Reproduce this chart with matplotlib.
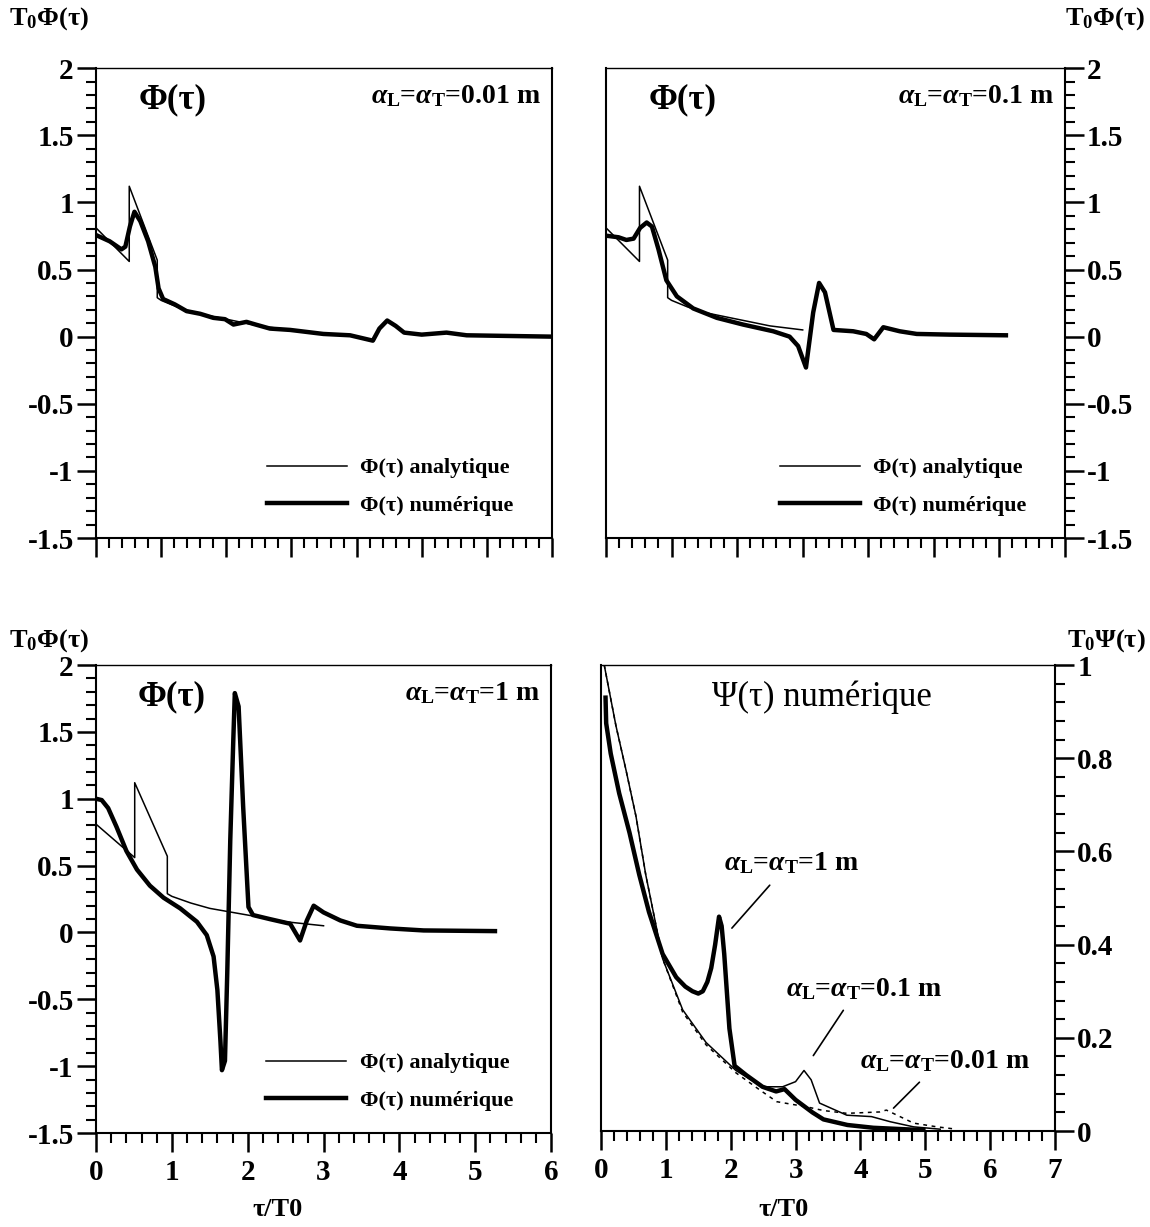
import numpy as np
import matplotlib.pyplot as plt
from matplotlib.ticker import MultipleLocator

plt.rcParams['font.family'] = ['Liberation Serif', 'DejaVu Serif']
plt.rcParams['font.weight'] = 'bold'
plt.rcParams['mathtext.fontset'] = 'custom'
plt.rcParams['mathtext.rm'] = 'Liberation Serif:bold'
plt.rcParams['mathtext.it'] = 'Liberation Serif:italic:bold'
plt.rcParams['mathtext.bf'] = 'Liberation Serif:bold'

# analytic solution (same in the three Phi panels)
ana_x = [0, 0.51, 0.51, 0.94, 0.94, 1.0, 1.25, 1.5, 2.0, 2.5, 3.0]
ana_y = [0.81, 0.56, 1.12, 0.57, 0.29, 0.27, 0.22, 0.18, 0.13, 0.08, 0.05]

# numeric, alpha = 0.01 m
n001_x = [0.03, 0.21, 0.39, 0.45, 0.52, 0.59, 0.68, 0.80, 0.91, 0.96, 1.03, 1.21, 1.39, 1.60,
          1.80, 1.98, 2.11, 2.31, 2.45, 2.67, 2.98, 3.49, 3.90, 4.25, 4.35, 4.47, 4.60, 4.73,
          5.0, 5.38, 5.69, 7.0]
n001_y = [0.75, 0.71, 0.65, 0.67, 0.82, 0.93, 0.86, 0.71, 0.52, 0.36, 0.28, 0.24, 0.19, 0.17,
          0.14, 0.13, 0.09, 0.11, 0.09, 0.06, 0.05, 0.02, 0.01, -0.03, 0.06, 0.12, 0.08, 0.03,
          0.015, 0.03, 0.01, 0.0]

# numeric, alpha = 0.1 m
n01_x = [0.03, 0.19, 0.31, 0.42, 0.52, 0.62, 0.70, 0.80, 0.92, 1.08, 1.33, 1.69, 2.09, 2.55,
         2.80, 2.93, 3.05, 3.16, 3.25, 3.34, 3.47, 3.77, 3.97, 4.09, 4.23, 4.48, 4.74, 5.24, 6.10]
n01_y = [0.75, 0.74, 0.72, 0.73, 0.81, 0.85, 0.82, 0.65, 0.42, 0.30, 0.21, 0.14, 0.09, 0.04,
         0.0, -0.07, -0.23, 0.18, 0.40, 0.33, 0.05, 0.04, 0.02, -0.02, 0.07, 0.04, 0.02, 0.015, 0.01]

# numeric, alpha = 1 m
n1_x = [0.0, 0.075, 0.16, 0.27, 0.40, 0.54, 0.71, 0.89, 1.11, 1.33, 1.46, 1.55, 1.60, 1.64,
        1.66, 1.70, 1.73, 1.77, 1.81, 1.83, 1.88, 1.94, 2.01, 2.07, 2.29, 2.56, 2.69, 2.78,
        2.87, 3.0, 3.22, 3.44, 3.88, 4.32, 5.26]
n1_y = [1.0, 0.99, 0.93, 0.79, 0.61, 0.47, 0.35, 0.26, 0.18, 0.08, -0.02, -0.18, -0.43, -0.81,
        -1.03, -0.96, -0.31, 0.69, 1.44, 1.79, 1.69, 0.94, 0.19, 0.13, 0.10, 0.065, -0.06, 0.09,
        0.20, 0.15, 0.09, 0.05, 0.03, 0.015, 0.01]

# Psi(tau) numerique for the three dispersivities
psi1_x = [0.07, 0.08, 0.15, 0.28, 0.44, 0.59, 0.74, 0.95, 1.16, 1.30, 1.41, 1.50, 1.57, 1.64,
          1.70, 1.76, 1.82, 1.86, 1.90, 1.98, 2.06, 2.24, 2.49, 2.70, 2.83, 3.0, 3.26, 3.43,
          3.8, 4.2, 4.97]
psi1_y = [0.93, 0.875, 0.81, 0.725, 0.64, 0.55, 0.47, 0.38, 0.33, 0.31, 0.30, 0.295, 0.30, 0.32,
          0.35, 0.40, 0.46, 0.44, 0.38, 0.22, 0.14, 0.12, 0.095, 0.085, 0.09, 0.067, 0.04, 0.025,
          0.013, 0.007, 0.002]
psi01_x = [0.05, 0.23, 0.385, 0.54, 0.69, 0.85, 0.95, 1.26, 1.62, 2.08, 2.49, 2.80, 3.0, 3.13,
           3.24, 3.37, 3.79, 4.17, 4.46, 4.82, 5.23]
psi01_y = [1.0, 0.87, 0.775, 0.675, 0.55, 0.44, 0.37, 0.26, 0.19, 0.13, 0.095, 0.095, 0.106, 0.13,
           0.11, 0.06, 0.034, 0.031, 0.02, 0.009, 0.004]
psi001_x = [0.05, 0.23, 0.385, 0.54, 0.69, 0.85, 0.95, 1.26, 1.62, 2.08, 2.45, 2.71, 3.17, 3.43,
            3.79, 4.3, 4.40, 4.61, 4.82, 5.18, 5.48]
psi001_y = [1.0, 0.87, 0.775, 0.675, 0.55, 0.44, 0.37, 0.255, 0.185, 0.125, 0.088, 0.063, 0.052,
            0.044, 0.038, 0.041, 0.045, 0.031, 0.017, 0.009, 0.004]

phi_panels = [
    ("$\\alpha_\\mathrm{L}$=$\\alpha_\\mathrm{T}$=0.01 m", n001_x, n001_y),
    ("$\\alpha_\\mathrm{L}$=$\\alpha_\\mathrm{T}$=0.1 m", n01_x, n01_y),
    ("$\\alpha_\\mathrm{L}$=$\\alpha_\\mathrm{T}$=1 m", n1_x, n1_y),
]
psi_labels = ["$\\alpha_\\mathrm{L}$=$\\alpha_\\mathrm{T}$=1 m",
              "$\\alpha_\\mathrm{L}$=$\\alpha_\\mathrm{T}$=0.1 m",
              "$\\alpha_\\mathrm{L}$=$\\alpha_\\mathrm{T}$=0.01 m"]
psi_text_pos = [(2.94, 0.575), (4.05, 0.305), (5.3, 0.15)]
psi_leader_from = [(2.63, 0.532), (3.76, 0.264), (4.94, 0.109)]
psi_leader_to = [(1.99, 0.431), (3.25, 0.157), (4.48, 0.045)]

fig = plt.figure(figsize=(11.5, 12.27), dpi=100)
ax_tl = fig.add_axes([0.0835, 0.5615, 0.3965, 0.383])
ax_tr = fig.add_axes([0.527, 0.5615, 0.399, 0.383])
ax_bl = fig.add_axes([0.0835, 0.0766, 0.3957, 0.3814])
ax_br = fig.add_axes([0.5226, 0.0782, 0.3948, 0.3798])


def style(ax, side, xmax, ymin, ymax, ymaj, ymin_step, xlabels):
    ax.set_xlim(0, xmax)
    ax.set_ylim(ymin, ymax)
    ax.xaxis.set_major_locator(MultipleLocator(1))
    ax.xaxis.set_minor_locator(MultipleLocator(0.2))
    ax.yaxis.set_major_locator(MultipleLocator(ymaj))
    ax.yaxis.set_minor_locator(MultipleLocator(ymin_step))
    ax.tick_params(which='major', direction='out', length=14, width=1.8, labelsize=21, pad=2)
    ax.tick_params(which='minor', direction='out', length=7, width=1.5)
    ax.tick_params(axis='x', which='major', pad=5)
    if side == 'right':
        ax.yaxis.tick_right()
    else:
        ax.yaxis.tick_left()
    if not xlabels:
        ax.tick_params(axis='x', labelbottom=False)
    for s in ax.spines.values():
        s.set_linewidth(1.5)
    ax.spines['top'].set_linewidth(1.0)
    ax.yaxis.set_major_formatter(plt.FuncFormatter(lambda v, p: f"{v:g}"))


for ax, (lab, nx, ny), side, xmax, xl in zip(
        [ax_tl, ax_tr, ax_bl], phi_panels, ['left', 'right', 'left'], [7, 7, 6],
        [False, False, True]):
    ax.plot(ana_x, ana_y, color='black', lw=1.1, label="Φ(τ) analytique")
    ax.plot(nx, ny, color='black', lw=3.2, label="Φ(τ) numérique")
    style(ax, side, xmax, -1.5, 2, 0.5, 0.1, xl)
    ax.text(0.167, 0.932, "Φ(τ)", transform=ax.transAxes, fontsize=25, ha='center', va='center')
    ax.text(0.975, 0.94, lab, transform=ax.transAxes, fontsize=20, ha='right', va='center')
    ax.legend(loc='lower right', bbox_to_anchor=(0.96, 0.005), frameon=False, fontsize=16,
              handlelength=3.6, handletextpad=0.6, labelspacing=0.75)

# Psi panel
ax_br.plot(psi01_x, psi01_y, color='black', lw=1.1)
ax_br.plot(psi001_x, psi001_y, color='black', lw=1.1, ls=(0, (2.5, 3)))
ax_br.plot(psi1_x, psi1_y, color='black', lw=3.2)
style(ax_br, 'right', 7, 0, 1, 0.2, 0.04, True)
ax_br.text(0.487, 0.93, "Ψ(τ) numérique", transform=ax_br.transAxes, fontsize=25,
           fontweight='normal', ha='center', va='center')
for lab, pos, p0, p1 in zip(psi_labels, psi_text_pos, psi_leader_from, psi_leader_to):
    ax_br.text(pos[0], pos[1], lab, fontsize=20, ha='center', va='center')
    ax_br.annotate('', xy=p1, xytext=p0, arrowprops=dict(arrowstyle='-', lw=1.2, color='black'))

fig.text(0.008, 0.985, "T$_0$Φ(τ)", fontsize=19, ha='left', va='center')
fig.text(0.996, 0.985, "T$_0$Φ(τ)", fontsize=19, ha='right', va='center')
fig.text(0.008, 0.478, "T$_0$Φ(τ)", fontsize=19, ha='left', va='center')
fig.text(0.996, 0.478, "T$_0$Ψ(τ)", fontsize=19, ha='right', va='center')
fig.text(0.241, 0.014, "τ/T0", fontsize=19, ha='center', va='center')
fig.text(0.681, 0.014, "τ/T0", fontsize=19, ha='center', va='center')

fig.savefig("out.png", dpi=100)
